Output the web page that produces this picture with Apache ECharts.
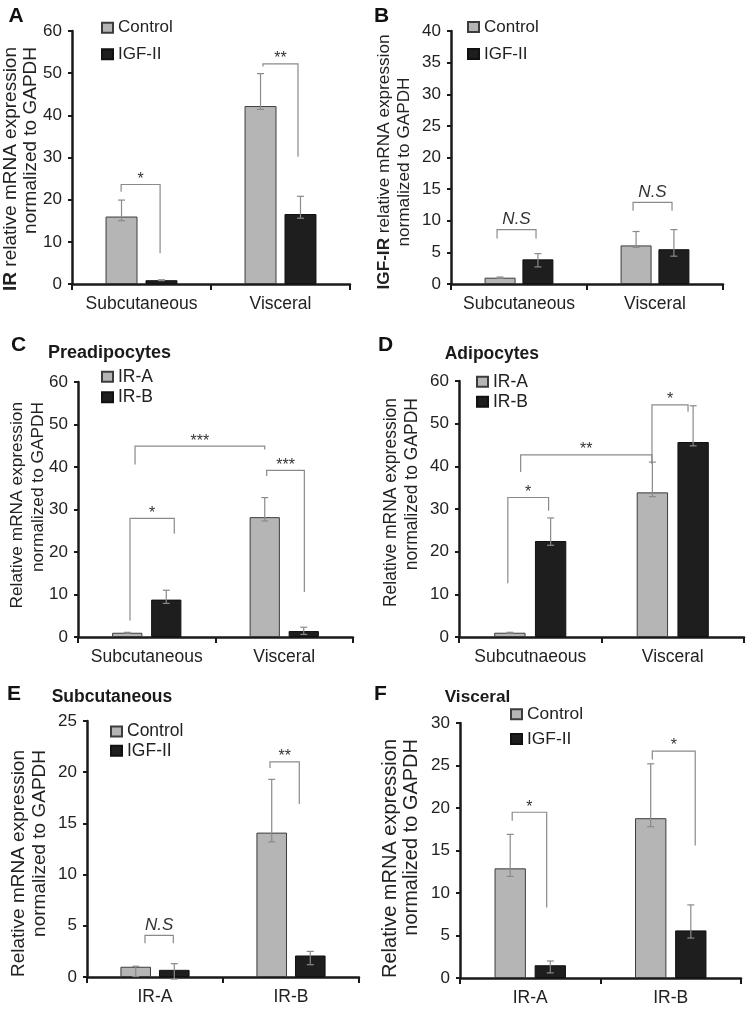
<!DOCTYPE html>
<html><head><meta charset="utf-8">
<script src="https://cdn.jsdelivr.net/npm/echarts@6/dist/echarts.min.js"></script>
<style>html,body{margin:0;padding:0;background:#fff}#c{width:747px;height:1010px}</style>
</head><body><div id="c"></div>
<script>
// ---------------- DATA ----------------
const catsSV = ['Subcutaneous', 'Visceral'];
const catsD = ['Subcutnaeous', 'Visceral'];
const catsIR = ['IR-A', 'IR-B'];
const seriesCtrl = ['Control', 'IGF-II'];
const seriesIso = ['IR-A', 'IR-B'];

// Panel A
const aControl = [16.0, 42.2], aControlHi = [19.9, 49.9], aControlLo = [15.0, 41.4];
const aIgf = [0.9, 16.6], aIgfHi = [1.0, 20.8], aIgfLo = [0.8, 15.6];
// brackets: [cat1, side1, cat2, side2, yTop, yLeftEnd, yRightEnd]
const aSig = [[0, -1.02, 0, 0.93, 23.6, 21.9, 7.3], [1, -0.875, 1, 0.875, 52.2, 51.6, 30.2]];
const aSigLabels = ['*', '**'];

// Panel B
const bControl = [1.0, 6.1], bControlHi = [1.1, 8.3], bControlLo = [0.9, 5.8];
const bIgf = [3.9, 5.5], bIgfHi = [4.8, 8.6], bIgfLo = [2.7, 4.4];
const bSig = [[0, -1.16, 0, 0.9, 8.6, 7.2, 7.2], [1, -1.16, 1, 0.9, 12.9, 11.6, 11.6]];
const bSigLabels = ['N.S', 'N.S'];

// Panel C
const cIRA = [1.0, 28.2], cIRAHi = [1.1, 32.8], cIRALo = [0.9, 27.3];
const cIRB = [8.8, 1.4], cIRBHi = [11.0, 2.3], cIRBLo = [7.9, 0.6];
const cSig = [[0, -0.86, 0, 1.41, 27.9, 3.9, 24.3], [0, -0.6, 1, -1.0, 44.9, 40.6, 44.1], [1, -0.9, 1, 1.03, 39.2, 37.9, 10.6]];
const cSigLabels = ['*', '***', '***'];

// Panel D
const dIRA = [1.0, 33.9], dIRAHi = [1.1, 41.0], dIRALo = [0.9, 32.9];
const dIRB = [22.5, 45.7], dIRBHi = [27.9, 54.2], dIRBLo = [21.5, 44.8];
const dSig = [[0, -1.1, 0, 0.9, 32.7, 12.6, 29.6], [0, -0.47, 1, -1.02, 42.7, 38.7, 40.6], [1, -1.02, 1, 0.75, 54.4, 40.6, 52.8]];
const dSigLabels = ['*', '**', '*'];

// Panel E
const eControl = [1.0, 14.1], eControlHi = [1.05, 19.3], eControlLo = [0.05, 13.2];
const eIgf = [0.7, 2.1], eIgfHi = [1.3, 2.5], eIgfLo = [-0.2, 1.2];
const eSig = [[0, -0.52, 0, 0.95, 4.07, 3.3, 3.3], [1, -1.09, 1, 0.43, 21.0, 20.4, 16.9]];
const eSigLabels = ['N.S', '**'];

// Panel F
const fControl = [12.9, 18.8], fControlHi = [16.9, 25.2], fControlLo = [11.95, 17.8];
const fIgf = [1.5, 5.6], fIgfHi = [2.0, 8.6], fIgfLo = [0.6, 4.7];
const fSig = [[0, -0.9, 0, 0.82, 19.5, 18.5, 8.3], [1, -0.92, 1, 1.22, 26.7, 25.7, 15.6]];
const fSigLabels = ['*', '*'];

// y-axis ranges
const yMax = [60, 40, 60, 60, 25, 30];
const yStep = [10, 5, 10, 10, 5, 5];

// ---------------- LAYOUT ----------------
const FF = '"Liberation Sans", Arial, Helvetica, sans-serif';
const GREY = '#b5b5b5', BLACK = '#1e1e1e', AX = '#1a1a1a', ERR = '#8a8a8a';

const panels = [
  { grid: {left: 72, top: 31, width: 278, height: 253}, cats: catsSV, names: seriesCtrl,
    s: [[aControl, aControlHi, aControlLo], [aIgf, aIgfHi, aIgfLo]], bw: 0.23, gap: 0.25,
    sig: aSig, sigL: aSigLabels, leg: {left: 101, top: 17.7, lh: 20, gap: 6.6, fs: 17} },
  { grid: {left: 451, top: 31, width: 272, height: 253}, cats: catsSV, names: seriesCtrl,
    s: [[bControl, bControlHi, bControlLo], [bIgf, bIgfHi, bIgfLo]], bw: 0.228, gap: 0.22,
    sig: bSig, sigL: bSigLabels, leg: {left: 467, top: 17, lh: 20, gap: 7, fs: 17} },
  { grid: {left: 78, top: 382, width: 275, height: 255}, cats: catsSV, names: seriesIso,
    s: [[cIRA, cIRAHi, cIRALo], [cIRB, cIRBHi, cIRBLo]], bw: 0.22, gap: 0.29,
    sig: cSig, sigL: cSigLabels, leg: {left: 101, top: 367.7, lh: 18, gap: 2.6, fs: 17.5} },
  { grid: {left: 459, top: 381, width: 285, height: 256}, cats: catsD, names: seriesIso,
    s: [[dIRA, dIRAHi, dIRALo], [dIRB, dIRBHi, dIRBLo]], bw: 0.22, gap: 0.30,
    sig: dSig, sigL: dSigLabels, leg: {left: 476, top: 372.7, lh: 18, gap: 2, fs: 17.5} },
  { grid: {left: 87, top: 721, width: 272, height: 256}, cats: catsIR, names: seriesCtrl,
    s: [[eControl, eControlHi, eControlLo], [eIgf, eIgfHi, eIgfLo]], bw: 0.225, gap: 0.26,
    sig: eSig, sigL: eSigLabels, leg: {left: 110, top: 722.5, lh: 17, gap: 1.3, fs: 17.5} },
  { grid: {left: 460, top: 723, width: 281, height: 255}, cats: catsIR, names: seriesCtrl,
    s: [[fControl, fControlHi, fControlLo], [fIgf, fIgfHi, fIgfLo]], bw: 0.223, gap: 0.28,
    sig: fSig, sigL: fSigLabels, leg: {left: 510, top: 704.3, lh: 20, gap: 4.7, fs: 17.4} }
];

function errRender(off, side) {
  return function (params, api) {
    const cat = api.value(0);
    const W = api.size([1, 0])[0];
    const x = api.coord([cat, 0])[0] + side * off * W;
    const yh = api.coord([cat, api.value(1)])[1];
    const yl = api.coord([cat, api.value(2)])[1];
    const st = {stroke: ERR, lineWidth: 1.2};
    return {type: 'group', children: [
      {type: 'line', shape: {x1: x, y1: yh, x2: x, y2: yl}, style: st},
      {type: 'line', shape: {x1: x - 3.5, y1: yh, x2: x + 3.5, y2: yh}, style: st},
      {type: 'line', shape: {x1: x - 3.5, y1: yl, x2: x + 3.5, y2: yl}, style: st}
    ]};
  };
}

function sigRender(off, labels) {
  return function (params, api) {
    const W = api.size([1, 0])[0];
    const x1 = api.coord([api.value(0), 0])[0] + api.value(1) * off * W;
    const x2 = api.coord([api.value(2), 0])[0] + api.value(3) * off * W;
    const yT = api.coord([0, api.value(4)])[1];
    const yL = api.coord([0, api.value(5)])[1];
    const yR = api.coord([0, api.value(6)])[1];
    const lab = labels[params.dataIndex];
    const ns = lab === 'N.S';
    return {type: 'group', children: [
      {type: 'polyline', shape: {points: [[x1, yL], [x1, yT], [x2, yT], [x2, yR]]},
       style: {stroke: ERR, lineWidth: 1.2, fill: null}},
      {type: 'text', x: (x1 + x2) / 2, y: yT - (ns ? 10 : 5),
       style: {text: lab, font: (ns ? 'italic 17px ' : '16px ') + FF, fill: '#333',
               textAlign: 'center', textVerticalAlign: 'middle', align: 'center', verticalAlign: 'middle'}}
    ]};
  };
}

const option = {
  animation: false,
  backgroundColor: '#fff',
  grid: [], xAxis: [], yAxis: [], series: [], legend: [], title: [], graphic: []
};

const styles = [
  {color: GREY, borderColor: '#3c3c3c', borderWidth: 1},
  {color: BLACK, borderColor: '#111', borderWidth: 1}
];

panels.forEach((p, i) => {
  option.grid.push(Object.assign({containLabel: false}, p.grid));
  option.xAxis.push({
    type: 'category', gridIndex: i, data: p.cats,
    axisLine: {lineStyle: {color: AX, width: 2.5}},
    axisTick: {show: true, length: 6, lineStyle: {color: AX, width: 2}},
    axisLabel: {fontSize: 17.5, color: '#222', fontFamily: FF, margin: 11, interval: 0, hideOverlap: false},
    splitLine: {show: false}
  });
  option.yAxis.push({
    type: 'value', gridIndex: i, min: 0, max: yMax[i], interval: yStep[i],
    axisLine: {show: true, lineStyle: {color: AX, width: 2.5}},
    axisTick: {show: true, length: 4, lineStyle: {color: AX, width: 2}},
    axisLabel: {fontSize: 17, color: '#222', fontFamily: FF, margin: 10},
    splitLine: {show: false}
  });
  const off = p.bw / 2 + p.gap * p.bw / 2;
  p.s.forEach((sd, k) => {
    option.series.push({
      type: 'bar', name: p.names[k], xAxisIndex: i, yAxisIndex: i, data: sd[0],
      barWidth: (p.bw * 100) + '%', barGap: (p.gap * 100) + '%',
      itemStyle: styles[k], z: 2
    });
  });
  p.s.forEach((sd, k) => {
    option.series.push({
      type: 'custom', name: p.names[k] + ' error', xAxisIndex: i, yAxisIndex: i, z: 4, clip: false,
      encode: {x: 0, y: [1, 2]},
      data: sd[1].map((h, j) => [j, h, sd[2][j]]),
      renderItem: errRender(off, k === 0 ? -1 : 1), silent: true
    });
  });
  option.series.push({
    type: 'custom', name: 'significance', xAxisIndex: i, yAxisIndex: i, z: 5, clip: false,
    encode: {x: 0, y: 4}, data: p.sig, renderItem: sigRender(off, p.sigL), silent: true
  });
  option.legend.push({
    orient: 'vertical', left: p.leg.left, top: p.leg.top, padding: 0,
    itemWidth: 11, itemHeight: 10, itemGap: p.leg.gap, icon: 'rect', selectedMode: false,
    data: p.names,
    textStyle: {fontSize: p.leg.fs, fontFamily: FF, color: '#222', lineHeight: p.leg.lh}
  });
});

// Panel titles
const titles = [
  {text: 'Preadipocytes', left: 48, mid: 353.5, fs: 18},
  {text: 'Adipocytes', left: 444.7, mid: 354, fs: 17.5},
  {text: 'Subcutaneous', left: 51.7, mid: 697.5, fs: 17.5},
  {text: 'Visceral', left: 444.7, mid: 697.5, fs: 17.2}
];
titles.forEach(t => option.title.push({
  text: t.text, left: t.left, top: t.mid - 10, padding: 0,
  textStyle: {fontSize: t.fs, fontWeight: 'bold', fontFamily: FF, color: '#1a1a1a', lineHeight: 20}
}));

// Panel letters
const letters = [['A', 16, 16.5], ['B', 381.5, 16.5], ['C', 18.5, 345.5], ['D', 385.5, 345.5], ['E', 14, 694.5], ['F', 380.5, 694.5]];
letters.forEach(l => option.graphic.push({
  type: 'text', x: l[1], y: l[2],
  style: {text: l[0], font: 'bold 21px ' + FF, fill: '#111', textAlign: 'center', textVerticalAlign: 'middle', align: 'center', verticalAlign: 'middle'}
}));

// Y-axis titles
const yNames = [
  {bold: 'IR', rest: ' relative mRNA expression', x: 21, y: 47, fs: 19, lh: 20, al: 'right'},
  {bold: 'IGF-IR', rest: ' relative mRNA expression', x: 394, y: 162, fs: 17.2, lh: 20, al: 'center'},
  {bold: '', rest: 'Relative mRNA expression', x: 27.75, y: 402, fs: 17.3, lh: 20.5, al: 'right'},
  {bold: '', rest: 'Relative mRNA expression', x: 401.25, y: 398, fs: 17.5, lh: 21, al: 'right'},
  {bold: '', rest: 'Relative mRNA expression', x: 29.5, y: 750, fs: 19, lh: 21, al: 'right'},
  {bold: '', rest: 'Relative mRNA expression', x: 400.75, y: 739, fs: 20, lh: 20.5, al: 'right'}
];
yNames.forEach(n => option.graphic.push({
  type: 'text', x: n.x, y: n.y, rotation: Math.PI / 2,
  style: {
    text: (n.bold ? '{b|' + n.bold + '}' : '') + n.rest + '\nnormalized to GAPDH',
    rich: {b: {fontWeight: 'bold', fontSize: n.fs, fontFamily: FF, lineHeight: n.lh, fill: '#222'}},
    font: n.fs + 'px ' + FF, lineHeight: n.lh, fill: '#222',
    textAlign: n.al, textVerticalAlign: 'middle', align: n.al, verticalAlign: 'middle'
  }
}));

const chart = echarts.init(document.getElementById('c'), null, {renderer: 'canvas'});
chart.setOption(option);
</script>
</body></html>
